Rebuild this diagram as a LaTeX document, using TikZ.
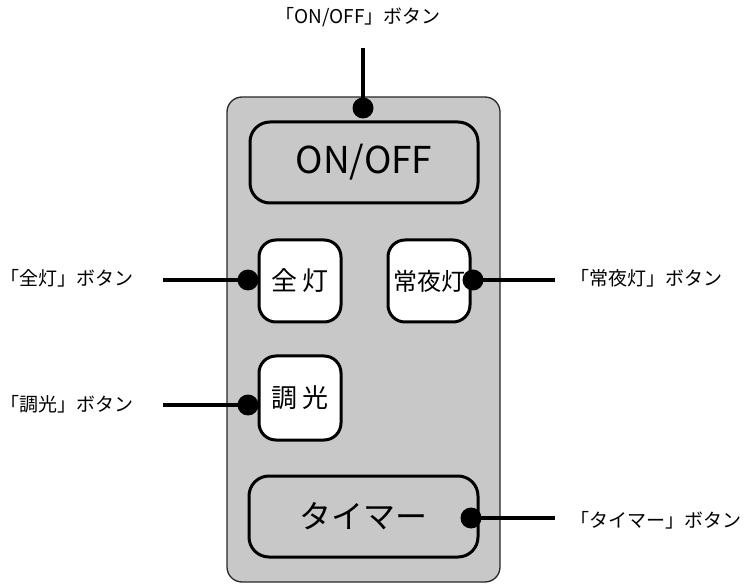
\documentclass[tikz,border=0pt]{standalone}
\usepackage{fontspec}
\setmainfont{Noto Sans CJK JP}
\definecolor{bodygray}{RGB}{200,200,200}
\definecolor{edgegray}{RGB}{40,40,40}
\tikzset{
  body/.style={draw=edgegray, line width=1.3pt, fill=bodygray, rounded corners=15pt},
  widebtn/.style={draw=black, line width=3pt, fill=bodygray, rounded corners=20pt, minimum width=228pt, minimum height=81pt, inner sep=0pt},
  sqbtn/.style={draw=black, line width=3pt, fill=white, rounded corners=17pt, minimum width=82pt, minimum height=82pt, inner sep=0pt},
  lead/.style={line width=4pt, line cap=butt},
  pin/.style={circle, fill=black, inner sep=0pt, minimum size=21pt},
  lbl/.style={font=\fontsize{19pt}{21pt}\selectfont, inner sep=0pt},
}
\begin{document}
\begin{tikzpicture}[x=1pt,y=-1pt]
\useasboundingbox (0,0) rectangle (750,585);
\fill[body] (227,97) rectangle (500,582);
\node[widebtn, font=\fontsize{37pt}{39pt}\selectfont] (onoff) at (364,162.5) {ON/OFF};
\node[sqbtn, font=\fontsize{26pt}{28pt}\selectfont] (zento) at (300,281) {全\,灯};
\node[sqbtn, font=\fontsize{24pt}{26pt}\selectfont] (joya) at (429,281) {常夜灯};
\node[sqbtn, font=\fontsize{26pt}{28pt}\selectfont, minimum height=84pt] (choko) at (300,398) {調\,光};
\node[widebtn, font=\fontsize{32pt}{34pt}\selectfont, minimum width=229pt] (timer) at (363.5,516.5) {タイマー};
% pins
\node[pin] (p1) at (363,108) {};
\node[pin] (p2) at (248,280) {};
\node[pin] (p3) at (473,280) {};
\node[pin] (p4) at (248,405) {};
\node[pin] (p5) at (471,518) {};
% labels
\node[lbl] (l1) at (358,17) {「ON/OFF」ボタン};
\node[lbl, anchor=west] (l2) at (0,278) {「全灯」ボタン};
\node[lbl, anchor=west] (l3) at (0,404) {「調光」ボタン};
\node[lbl, anchor=west] (l4) at (570,278) {「常夜灯」ボタン};
\node[lbl, anchor=west] (l5) at (570,520) {「タイマー」ボタン};
% leads
\coordinate (c1) at (363,48);
\coordinate (c2) at (163,280);
\coordinate (c3) at (555,280);
\coordinate (c4) at (163,405);
\coordinate (c5) at (555,518);
\draw[lead] (c1) -- (p1.center);
\draw[lead] (c2) -- (p2.center);
\draw[lead] (p3.center) -- (c3);
\draw[lead] (c4) -- (p4.center);
\draw[lead] (p5.center) -- (c5);
\end{tikzpicture}
\end{document}
